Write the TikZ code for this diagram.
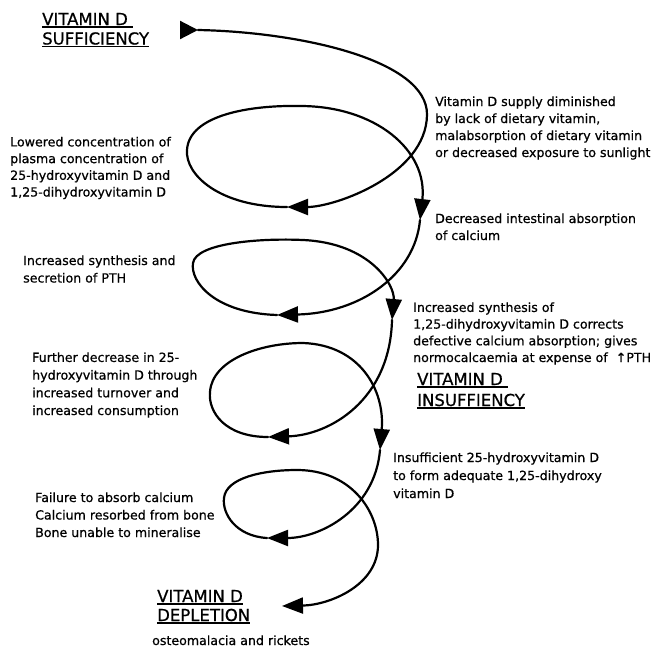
\documentclass[tikz,border=0pt]{standalone}
\usepackage{fontspec}
\setmainfont[FakeBold=0.7]{DejaVu Sans}
\usetikzlibrary{arrows.meta}
\newcommand\myul[1]{\setbox0\hbox{#1}\rlap{\rule[-2.6pt]{\wd0}{1.3pt}}\box0}
\begin{document}
\begin{tikzpicture}[x=1pt,y=-1pt,
  spiral/.style={line width=2.2pt, line cap=round, -{Triangle[length=21pt,width=16pt]}},
  startarr/.style={line width=2.2pt, -{Triangle[length=18pt,width=18pt]}},
  txt/.style={anchor=base west, inner sep=0pt, align=left, font=\fontsize{12.6}{17}\selectfont},
  ttl/.style={anchor=base west, inner sep=0pt, align=left, font=\fontsize{16.5}{19.5}\selectfont}]
\useasboundingbox (0,0) rectangle (661,648);

% waypoints of the spiral
\coordinate (s0) at (180,30);
\coordinate (t0) at (198,30);
\coordinate (r1) at (427,115);
\coordinate (b1) at (287,207);
\coordinate (l2) at (187,150);
\coordinate (u2) at (300,106);
\coordinate (c1) at (420,220);
\coordinate (d1) at (277,315);
\coordinate (l3) at (193,263);
\coordinate (u3) at (303,240);
\coordinate (e1) at (392,320);
\coordinate (f1) at (268,437);
\coordinate (l4) at (210,392);
\coordinate (u4) at (303,343);
\coordinate (g1) at (380,450);
\coordinate (h1) at (267,538);
\coordinate (l5) at (224,498);
\coordinate (u5) at (297,470);
\coordinate (r5) at (378,545);
\coordinate (z) at (282,606);

\draw[startarr] (s0) -- (t0);
\draw[spiral] (t0) .. controls (300,32) and (428,60) .. (r1)
  .. controls (426,175) and (335,207) .. (b1);
\draw[spiral] (b1) .. controls (220,207) and (185,175) .. (l2)
  .. controls (189,115) and (250,105) .. (u2)
  .. controls (375,106) and (428,150) .. (c1);
\draw[spiral] (c1) .. controls (415,275) and (360,313) .. (d1);
\draw[spiral] (d1) .. controls (215,313) and (190,282) .. (l3)
  .. controls (196,243) and (260,238) .. (u3)
  .. controls (370,243) and (395,285) .. (e1);
\draw[spiral] (e1) .. controls (390,400) and (330,435) .. (f1);
\draw[spiral] (f1) .. controls (225,437) and (208,412) .. (l4)
  .. controls (212,360) and (260,343) .. (u4)
  .. controls (360,345) and (385,390) .. (g1);
\draw[spiral] (g1) .. controls (375,510) and (320,538) .. (h1);
\draw[spiral] (h1) .. controls (235,536) and (222,513) .. (l5)
  .. controls (226,478) and (262,470) .. (u5)
  .. controls (350,470) and (378,510) .. (r5)
  .. controls (378,585) and (330,605) .. (z);

% titles (base anchor = baseline of last line)
\node[ttl] (suf) at (42,44.5) {\myul{VITAMIN D\ }\\\myul{SUFFICIENCY}};
\node[ttl, font=\fontsize{16.5}{21}\selectfont] (insuf) at (417,406) {\myul{VITAMIN D\ }\\\myul{INSUFFIENCY}};
\node[ttl, font=\fontsize{16.5}{19}\selectfont] (depl) at (157,621) {\myul{VITAMIN D}\\\myul{DEPLETION}};
\node[txt] (osteo) at (152,645) {osteomalacia and rickets};

% explanatory texts
\node[txt] (supply) at (435,157) {Vitamin D supply diminished\\by lack of dietary vitamin,\\malabsorption of dietary vitamin\\or decreased exposure to sunlight};
\node[txt, font=\fontsize{12.6}{16.7}\selectfont] (lowered) at (10,196.5) {Lowered concentration of\\plasma concentration of\\25-hydroxyvitamin D and\\1,25-dihydroxyvitamin D};
\node[txt] (absorb) at (435,240) {Decreased intestinal absorption\\of calcium};
\node[txt, font=\fontsize{12.6}{17.5}\selectfont] (pth) at (23,282.5) {Increased synthesis and\\secretion of PTH};
\node[txt, font=\fontsize{12.6}{16.7}\selectfont] (corrects) at (413,362) {Increased synthesis of\\1,25-dihydroxyvitamin D corrects\\defective calcium absorption; gives\\normocalcaemia at expense of \ ↑PTH};
\node[txt, font=\fontsize{12.6}{17.7}\selectfont] (further) at (32,415) {Further decrease in 25-\\hydroxyvitamin D through\\increased turnover and\\increased consumption};
\node[txt, font=\fontsize{12.6}{18}\selectfont] (insuff) at (393,498) {Insufficient 25-hydroxyvitamin D\\to form adequate 1,25-dihydroxy\\vitamin D};
\node[txt, font=\fontsize{12.6}{17.5}\selectfont] (failure) at (35,537) {Failure to absorb calcium\\Calcium resorbed from bone\\Bone unable to mineralise};
\end{tikzpicture}
\end{document}
